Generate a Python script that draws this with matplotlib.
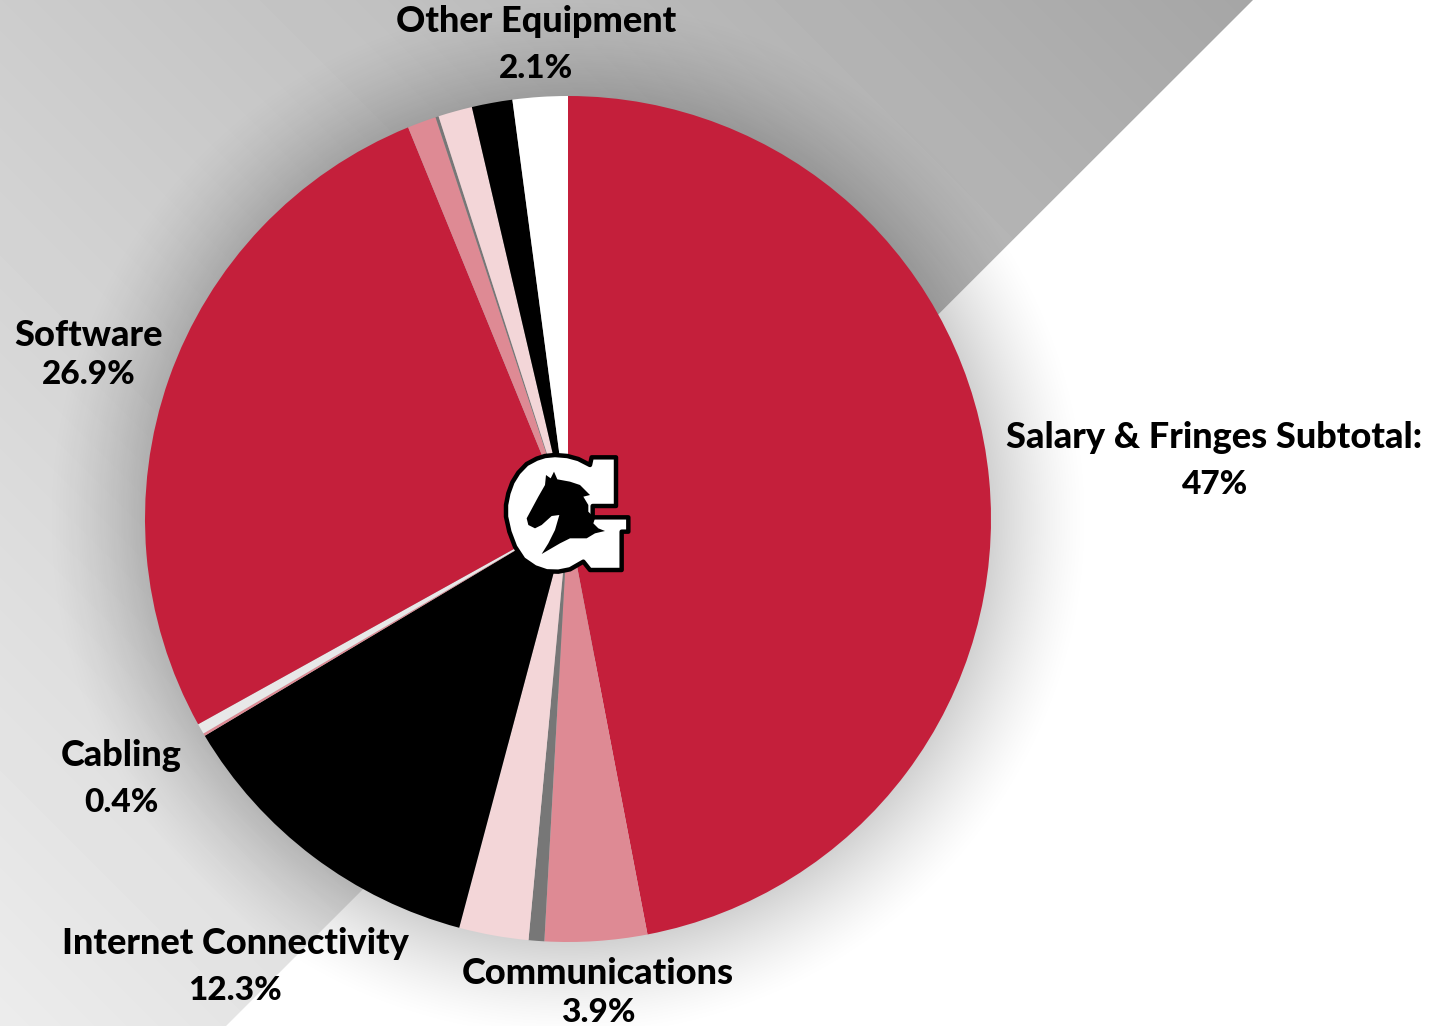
import numpy as np
import matplotlib
matplotlib.use('Agg')
import matplotlib.pyplot as plt
from matplotlib.patches import Polygon

W = 1430
H = 1026

# slices clockwise from 12 o'clock, unlabelled ones have no number on the chart
slice_values = [47, 3.9, 0.6, 2.65, 12.3, 0.1, 0.4, 26.9, 1.1, 0.12, 1.3, 1.55, 2.1]
slice_colors = ['#c41f3b', '#de8a94', '#777777', '#f3d6d8', '#000000', '#de8a94', '#e8e8e8',
                '#c41f3b', '#de8a94', '#777777', '#f3d6d8', '#000000', '#ffffff']

label_names = ['Other Equipment', 'Salary & Fringes Subtotal:', 'Software', 'Cabling',
               'Internet Connectivity', 'Communications']
label_values = ['2.1%', '47%', '26.9%', '0.4%', '12.3%', '3.9%']
name_pos = [(536, 22), (1214, 438), (89, 336), (121, 756), (235, 943), (598, 974)]
value_pos = [(536, 69), (1215, 485), (89, 374), (121, 803), (235, 990), (598, 1012)]

plt.rcParams['font.family'] = ['Lato', 'DejaVu Sans']

fig = plt.figure(figsize=(W / 100, H / 100), dpi=100)
bg = fig.add_axes([0, 0, 1, 1])
bg.set_xlim(0, W)
bg.set_ylim(H, 0)
bg.axis('off')

# grey band behind the pie, clipped at the diagonal
xx, yy = np.meshgrid(np.arange(W) + 0.5, np.arange(H) + 0.5)
t = (xx - yy + H) / (W + H)
grad = 236 - 76 * t
im = bg.imshow(grad, cmap='gray', vmin=0, vmax=255, extent=[0, W, H, 0], aspect='auto', zorder=1)
band = Polygon([(0, 0), (1253, 0), (226, H), (0, H)], transform=bg.transData, fc='none', ec='none')
bg.add_patch(band)
im.set_clip_path(band)

# soft shadow round the pie
d = np.hypot(xx - 568, yy - 519)
a = np.clip((523 - d) / 100, 0, 1) ** 1.4 * 0.18
rgba = np.zeros((H, W, 4))
rgba[..., 3] = a
bg.imshow(rgba, extent=[0, W, H, 0], aspect='auto', zorder=2)
bg.set_xlim(0, W)
bg.set_ylim(H, 0)

# pie on its own axes
pie_ax = fig.add_axes([(568 - 423) / W, (H - 519 - 423) / H, 846 / W, 846 / H])
pie_ax.pie(slice_values, colors=slice_colors, startangle=90, counterclock=False, radius=1)
pie_ax.set_xlim(-1, 1)
pie_ax.set_ylim(-1, 1)

top = fig.add_axes([0, 0, 1, 1])
top.set_xlim(0, W)
top.set_ylim(H, 0)
top.axis('off')
top.patch.set_alpha(0)

for name, pos in zip(label_names, name_pos):
    top.text(pos[0], pos[1], name, ha='center', va='center', fontsize=26, fontweight='black', color='black')
for val, pos in zip(label_values, value_pos):
    top.text(pos[0], pos[1], val, ha='center', va='center', fontsize=24, fontweight='black', color='black')

# logo
def logo_xy(pts):
    return [(480 + x / 3, 430 + y / 3) for x, y in pts]

g_shape = [(225, 75), (262, 78), (295, 87), (330, 105), (335, 82), (408, 82), (408, 228), (338, 228), (338, 262),
           (445, 262), (445, 305), (425, 305), (425, 420), (330, 420), (310, 395), (270, 418), (235, 425), (200, 424),
           (165, 412), (130, 388), (105, 350), (88, 305), (78, 260), (78, 225), (85, 190), (97, 157), (115, 128),
           (140, 102), (170, 86), (195, 78)]
horse = [(140, 265), (175, 200), (195, 165), (198, 135), (212, 145), (222, 125), (232, 148), (270, 155), (300, 165),
         (320, 185), (330, 195), (310, 200), (325, 225), (325, 245), (345, 265), (340, 280), (355, 295), (375, 303),
         (345, 310), (320, 325), (270, 325), (240, 340), (185, 372), (205, 340), (225, 300), (238, 255), (215, 258),
         (185, 285), (165, 295), (145, 285)]
top.add_patch(Polygon(logo_xy(g_shape), fc='white', ec='black', lw=3.2, joinstyle='round', zorder=5))
top.add_patch(Polygon(logo_xy(horse), fc='black', ec='none', zorder=6))

fig.savefig('out.png', dpi=100)
